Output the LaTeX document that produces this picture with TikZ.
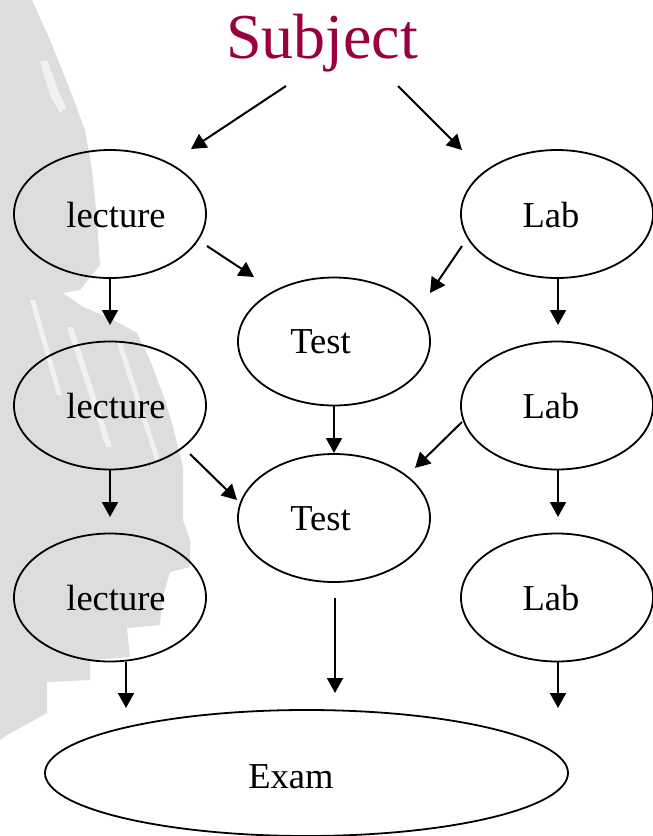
\documentclass[tikz,border=0pt]{standalone}
\usepackage{fontspec}
\setmainfont{Liberation Serif}
\usetikzlibrary{arrows.meta,shapes.geometric}
\definecolor{subj}{RGB}{153,0,61}
\definecolor{wm}{RGB}{221,221,221}
\begin{document}
\begin{tikzpicture}[x=1pt,y=-1pt,
  ell/.style={draw=black, line width=1.8pt, ellipse, minimum width=192pt, minimum height=128pt, inner sep=0pt},
  lbl/.style={font=\fontsize{36.5}{36.5}\selectfont, anchor=base, inner sep=0pt},
  arr/.style={line width=2pt, -{Triangle[length=15pt,width=16pt]}}
]
\useasboundingbox (0,0) rectangle (653,836);
\fill[white] (0,0) rectangle (653,836);
% watermark
\fill[wm] (0,0) -- (32,0) -- (50,40) -- (70,90) -- (85,130) -- (92,170) -- (97,220) -- (100,265) -- (80,290) -- (63,293) -- (83,307) -- (110,318) -- (137,333) -- (150,360) -- (165,400) -- (173,427) -- (183,467) -- (183,520) -- (190,540) -- (190,567) -- (170,572) -- (162,600) -- (160,625) -- (127,628) -- (130,657) -- (90,660) -- (90,680) -- (47,682) -- (47,713) -- (7,735) -- (0,740) -- cycle;
\fill[white!60!wm] (30,300) -- (35,300) -- (62,395) -- (57,395) -- cycle;
\fill[white!60!wm] (67,327) -- (73,327) -- (112,447) -- (106,447) -- cycle;
\fill[white!60!wm] (117,343) -- (122,343) -- (160,460) -- (155,460) -- cycle;
\fill[white!60!wm] (40,62) -- (47,60) -- (58,90) -- (66,108) -- (60,113) -- (50,95) -- cycle;
% title
\node[font=\fontsize{64}{64}\selectfont, text=subj, anchor=base, inner sep=0pt] (subject) at (322,58) {Subject};
% ellipses
\node[ell] (lec1) at (110,214) {};
\node[ell] (lec2) at (110,405.5) {};
\node[ell] (lec3) at (110,597.5) {};
\node[ell] (lab1) at (557,214) {};
\node[ell] (lab2) at (557,405.5) {};
\node[ell] (lab3) at (557,597.5) {};
\node[ell] (test1) at (334,341.5) {};
\node[ell] (test2) at (334,518) {};
\node[ell, minimum width=523pt, minimum height=126pt] (exam) at (306.5,773) {};
% labels
\node[lbl] (lec1t) at (116,227) {lecture};
\node[lbl] (lec2t) at (116,418.5) {lecture};
\node[lbl] (lec3t) at (116,610.5) {lecture};
\node[lbl] (lab1t) at (551,227) {Lab};
\node[lbl] (lab2t) at (551,418.5) {Lab};
\node[lbl] (lab3t) at (551,610.5) {Lab};
\node[lbl] (test1t) at (320.5,353.5) {Test};
\node[lbl] (test2t) at (320.5,530) {Test};
\node[lbl] (examt) at (291,788) {Exam};
% arrow end points
\coordinate (s1) at (286,86);   \coordinate (e1) at (191,149);
\coordinate (s2) at (398,86);   \coordinate (e2) at (462,150);
\coordinate (s3) at (207,246);  \coordinate (e3) at (254,277);
\coordinate (s4) at (462,246);  \coordinate (e4) at (430,293);
\coordinate (s5) at (110,278);  \coordinate (e5) at (110,325);
\coordinate (s6) at (558,278);  \coordinate (e6) at (558,325);
\coordinate (s7) at (334,406);  \coordinate (e7) at (334,453);
\coordinate (s8) at (190,454);  \coordinate (e8) at (237,500);
\coordinate (s9) at (462,422);  \coordinate (e9) at (415,468);
\coordinate (s10) at (110,469); \coordinate (e10) at (110,517);
\coordinate (s11) at (558,469); \coordinate (e11) at (558,517);
\coordinate (s12) at (126,662); \coordinate (e12) at (126,708);
\coordinate (s13) at (335,598); \coordinate (e13) at (335,693);
\coordinate (s14) at (558,662); \coordinate (e14) at (558,708);
\foreach \i in {1,...,14} { \draw[arr] (s\i) -- (e\i); }
\end{tikzpicture}
\end{document}
